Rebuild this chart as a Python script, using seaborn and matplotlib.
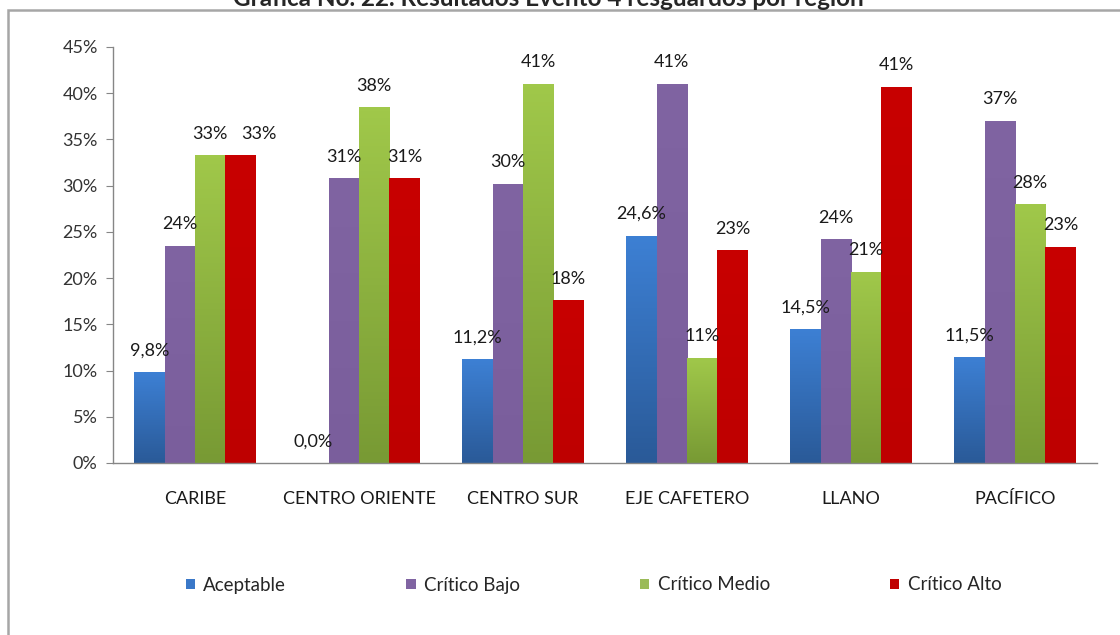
import numpy as np
import pandas as pd
import matplotlib
matplotlib.use("Agg")
import matplotlib.pyplot as plt
import seaborn as sns
from matplotlib.colors import LinearSegmentedColormap
from matplotlib.patches import Rectangle, Patch

# datos
regiones = ["CARIBE", "CENTRO ORIENTE", "CENTRO SUR", "EJE CAFETERO", "LLANO", "PACÍFICO"]
niveles = ["Aceptable", "Crítico Bajo", "Crítico Medio", "Crítico Alto"]
aceptable = [9.8, 0.0, 11.2, 24.6, 14.5, 11.5]
critico_bajo = [23.5, 30.8, 30.2, 41.0, 24.2, 37.0]
critico_medio = [33.3, 38.5, 41.0, 11.4, 20.7, 28.0]
critico_alto = [33.3, 30.8, 17.6, 23.0, 40.7, 23.4]
ticks_y = [0, 5, 10, 15, 20, 25, 30, 35, 40, 45]

colores = ["#3A78C8", "#8064A2", "#9BBB59", "#C00000"]
# degradado (arriba, abajo) estilo Excel
degradados = [("#3D80D4", "#2A5A98"), ("#8064A2", "#7A5E9C"),
              ("#A0C84A", "#789A34"), ("#C80000", "#BE0000")]

df = pd.DataFrame({
    "region": regiones * 4,
    "nivel": np.repeat(niveles, len(regiones)),
    "valor": aceptable + critico_bajo + critico_medio + critico_alto,
})

sns.set_style("white")
plt.rcParams["font.family"] = ["Lato", "DejaVu Sans"]

fig = plt.figure(figsize=(11.2, 6.35), dpi=100)
ax = fig.add_axes([0.1009, 0.2709, 0.8786, 0.6551])

sns.barplot(data=df, x="region", y="valor", hue="nivel", order=regiones,
            hue_order=niveles, palette=colores, width=0.74, errorbar=None,
            saturation=1, legend=False, ax=ax)

# relleno en degradado recortado a cada barra
for cont, (c_top, c_bot) in zip(ax.containers, degradados):
    cmap = LinearSegmentedColormap.from_list("g", [c_bot, c_top])
    grad = np.linspace(0, 1, 100).reshape(-1, 1)
    for bar in cont:
        x0, w, h = bar.get_x(), bar.get_width(), bar.get_height()
        if h <= 0:
            continue
        im = ax.imshow(grad, cmap=cmap, origin="lower", aspect="auto",
                       extent=[x0, x0 + w, 0, h], zorder=bar.get_zorder())
        im.set_clip_path(bar)
        bar.set_facecolor("none")
        bar.set_edgecolor("none")
ax.set_xlim(-0.5, len(regiones) - 0.5)
ax.set_ylim(0, 45)

# etiquetas de datos (la de CARIBE / Crítico Alto va corrida a la derecha)
desplazar = {("CARIBE", "Crítico Alto"): 13}
for i, cont in enumerate(ax.containers):
    vals = df[df["nivel"] == niveles[i]]["valor"].tolist()
    for bar, v, reg in zip(cont, vals, regiones):
        if i == 0:
            txt = f"{v:.1f}".replace(".", ",") + "%"
        else:
            txt = f"{v:.0f}%"
        dx = desplazar.get((reg, niveles[i]), 0)
        ax.annotate(txt, (bar.get_x() + bar.get_width() / 2, v),
                    xytext=(dx, 15.5), textcoords="offset points",
                    ha="center", va="center", fontsize=13, color="#1a1a1a")

ax.set_yticks(ticks_y)
ax.set_yticklabels([f"{t}%" for t in ticks_y], fontsize=13, color="#333333")
ax.set_xticks(range(len(regiones)))
ax.set_xticklabels(regiones, fontsize=13, color="#1a1a1a")
ax.set_xticks(np.arange(-0.5, len(regiones)), minor=True)
ax.tick_params(axis="x", which="major", length=0, pad=20)
ax.tick_params(axis="x", which="minor", length=5, color="#868686", direction="out")
ax.tick_params(axis="y", length=5, color="#868686", direction="out", left=True, pad=6)
ax.set_xlabel("")
ax.set_ylabel("")
for s in ["top", "right"]:
    ax.spines[s].set_visible(False)
for s in ["left", "bottom"]:
    ax.spines[s].set_color("#868686")
    ax.spines[s].set_linewidth(1)

# leyenda
handles = [Patch(facecolor=c, edgecolor="none") for c in colores]
fig.legend(handles, niveles, loc="center", bbox_to_anchor=(0.53, 1 - 585 / 635), ncol=4,
           frameon=False, fontsize=13.5, handlelength=0.5, handleheight=0.5,
           handletextpad=0.45, columnspacing=6.4)

# marco del gráfico y título recortado
fig.patches.append(Rectangle((8 / 1120, -0.05), 1.1, 1 - 10 / 635 + 0.05,
                             transform=fig.transFigure, fill=False,
                             edgecolor="#A6A6A6", linewidth=1.8))
fig.text(548 / 1120, 1 - 6 / 635, "Gráfica No. 22. Resultados Evento 4 resguardos por región",
         ha="center", va="baseline", fontsize=17.5, fontweight="bold")

fig.savefig("out.png", dpi=100)
